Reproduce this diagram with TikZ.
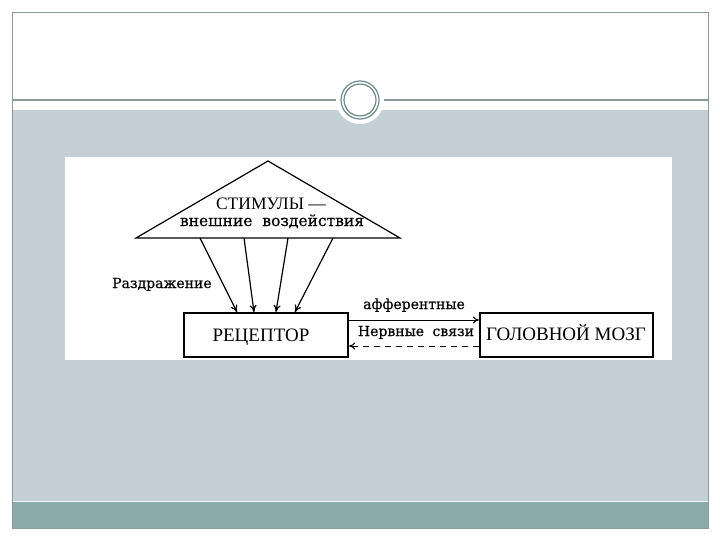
\documentclass[tikz,border=0pt]{standalone}
\usepackage{fontspec}
\setmainfont{Liberation Serif}
\newfontfamily\smallserif[FakeBold=0.5]{DejaVu Serif}
\usetikzlibrary{arrows.meta}
\definecolor{bandgray}{HTML}{C5D0D6}
\definecolor{footteal}{HTML}{8AABAA}
\definecolor{framegray}{HTML}{8C9999}
\definecolor{ringteal}{HTML}{6E8B8B}
\tikzset{
  bigbox/.style={draw=black, line width=2.2pt, fill=white, minimum width=#1, minimum height=44pt, inner sep=0pt},
  bigtext/.style={font=\fontsize{19}{21}\selectfont, inner sep=0pt, anchor=base},
  lbl/.style={font=\smallserif\fontsize{14}{16}\selectfont, inner sep=0pt, anchor=base},
  stim/.style={-{To[length=7pt,width=7pt]}, line width=1.2pt},
  link/.style={line width=1pt}
}
\begin{document}
\begin{tikzpicture}[x=1pt,y=-1pt]
\useasboundingbox (0,0) rectangle (720,540);
\fill[white] (0,0) rectangle (720,540);
% slide background
\fill[bandgray] (12,110) rectangle (708,502);
\fill[footteal] (12,502) rectangle (708,528);
\draw[white!80!bandgray, line width=1pt] (12,501) -- (708,501);
\draw[framegray, line width=0.8pt] (12,12) rectangle (708,528);
\draw[framegray, line width=1.2pt] (12,100) -- (708,100);
% ornament circle
\fill[white] (360,100) circle (24);
\draw[ringteal, line width=1.2pt] (360,100) circle (19);
\draw[ringteal, line width=1.2pt] (360,100) circle (16);
% diagram image background
\fill[white] (65,157) rectangle (672,360);
% triangle
\draw[line width=1.2pt, fill=white] (136,238) -- (268,161) -- (400,238) -- cycle;
\node[bigtext, font=\fontsize{17.5}{20}\selectfont] (stimuli) at (271,210) {СТИМУЛЫ —};
\node[lbl, font=\smallserif\fontsize{15.5}{17}\selectfont] (ext) at (272,226) {внешние\hspace{5pt} воздействия};
% boxes
\node[bigbox=164pt] (rec) at (266,335) {};
\node[bigtext] (rectext) at (261,341) {РЕЦЕПТОР};
\node[bigbox=173pt] (brain) at (566.5,335) {};
\node[bigtext] (braintext) at (566,340) {ГОЛОВНОЙ МОЗГ};
% stimulus arrows
\coordinate (s1) at (200,238);
\coordinate (s2) at (244,238);
\coordinate (s3) at (288,238);
\coordinate (s4) at (333,238);
\coordinate (t1) at (237,312);
\coordinate (t2) at (254,312);
\coordinate (t3) at (276,312);
\coordinate (t4) at (295,312);
\draw[stim] (s1) -- (t1);
\draw[stim] (s2) -- (t2);
\draw[stim] (s3) -- (t3);
\draw[stim] (s4) -- (t4);
\node[lbl, anchor=base west] (irr) at (112,288) {Раздражение};
% nerve links
\draw[link, -{To[length=6pt,width=7pt]}] (rec.east |- 0,320) -- (brain.west |- 0,320);
\draw[link, dashed, dash pattern=on 6pt off 5pt, -{To[length=6pt,width=7pt]}] (brain.west |- 0,346) -- (rec.east |- 0,346);
\node[lbl] (aff) at (414,309) {афферентные};
\node[lbl] (nerv) at (416,336) {Нервные\hspace{4pt} связи};
\end{tikzpicture}
\end{document}
